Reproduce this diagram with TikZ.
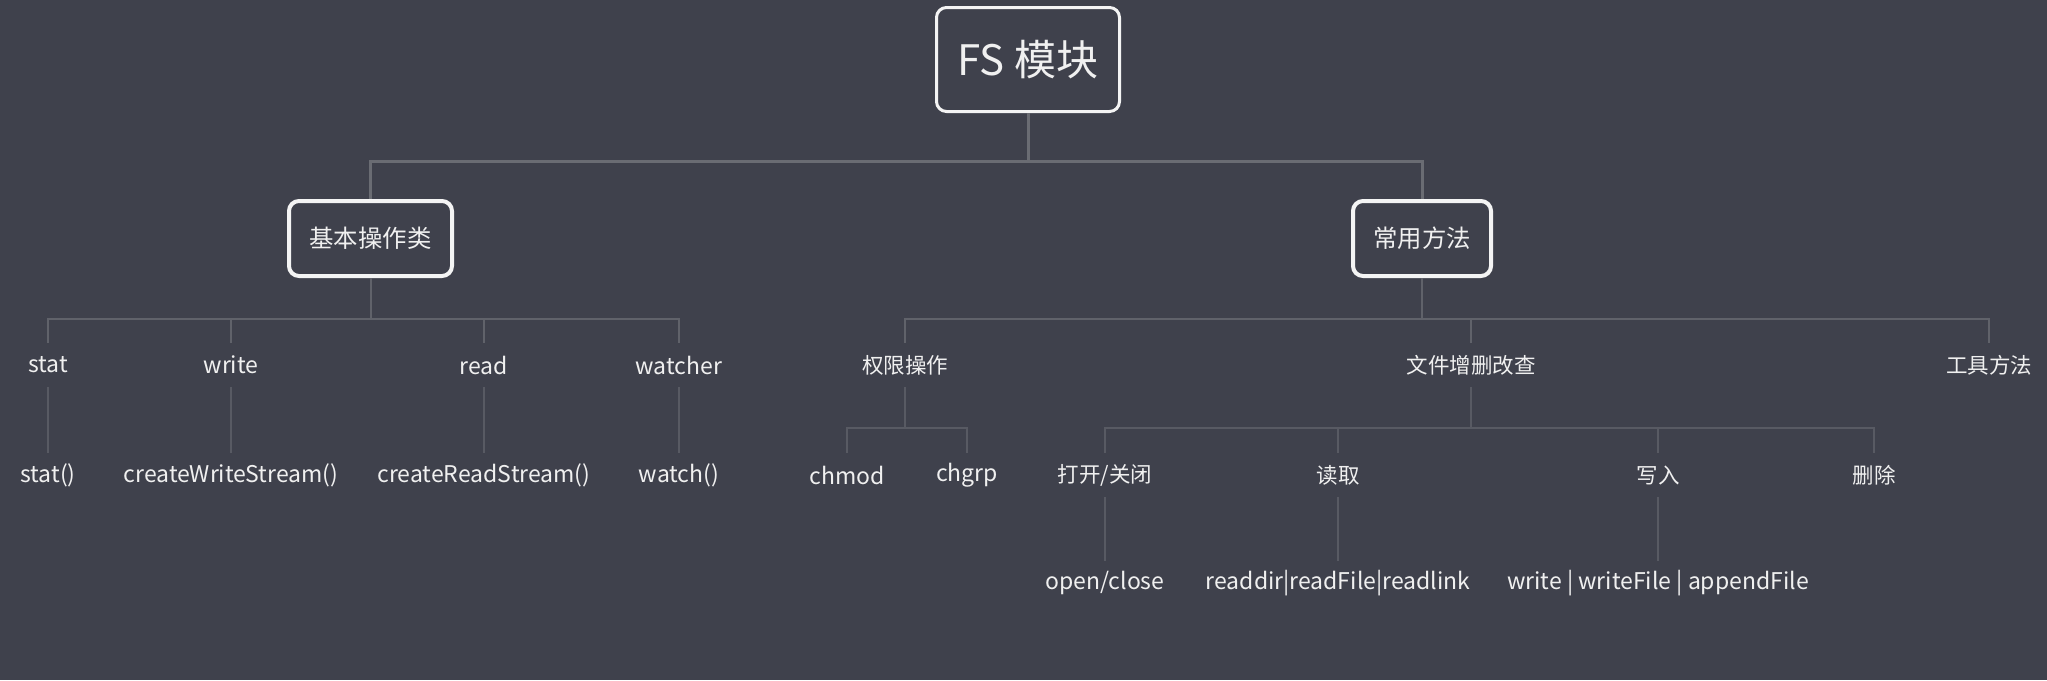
\documentclass[tikz,border=0pt]{standalone}
\usepackage{fontspec}
\setmainfont{Noto Sans CJK SC}
\definecolor{bg}{HTML}{3F414C}
\definecolor{boxc}{HTML}{F4F4F4}
\definecolor{txt}{HTML}{F0F0F0}
\definecolor{lineA}{HTML}{6A6C73}
\definecolor{lineB}{HTML}{60626A}
\definecolor{lineC}{HTML}{585A63}
\begin{document}
\begin{tikzpicture}[x=1pt,y=-1pt,
  mainbox/.style={draw=boxc, line width=3pt, rounded corners=10pt, fill=bg, text=txt, inner sep=0pt, align=center},
  lab/.style={text=txt, inner sep=0pt, minimum height=44pt, anchor=center},
  lat/.style={lab, font=\fontsize{23}{26}\selectfont},
  cjk/.style={lab, font=\fontsize{21.5}{24}\selectfont},
  connA/.style={draw=lineA, line width=3pt},
  connB/.style={draw=lineB, line width=2pt},
  connC/.style={draw=lineC, line width=1.5pt}]
\fill[bg] (0,0) rectangle (2047,680);
\useasboundingbox (0,0) rectangle (2047,680);

% bus coordinates
\coordinate (b0) at (0,161.5);
\coordinate (b1) at (0,318.5);
\coordinate (b2) at (0,428);

% boxes
\node[mainbox, minimum width=183pt, minimum height=104pt, font=\fontsize{42}{46}\selectfont] (root) at (1028,59.5) {FS 模块};
\node[mainbox, line width=4pt, minimum width=163pt, minimum height=75pt, font=\fontsize{24.4}{28}\selectfont] (basic) at (370.5,238.5) {基本操作类};
\node[mainbox, line width=4pt, minimum width=138pt, minimum height=75pt, font=\fontsize{24.4}{28}\selectfont] (common) at (1422,238.5) {常用方法};

% level 1 labels
\node[lat] (stat) at (48,365) {stat};
\node[lat] (write) at (231,365) {write};
\node[lat] (read) at (484,365) {read};
\node[lat] (watcher) at (679,365) {watcher};
\node[cjk] (perm) at (905,365) {权限操作};
\node[cjk] (file) at (1471,365) {文件增删改查};
\node[cjk] (tool) at (1989,365) {工具方法};

% level 2 labels
\node[lat] (statf) at (48,475) {stat()};
\node[lat] (cws) at (231,475) {createWriteStream()};
\node[lat] (crs) at (484,475) {createReadStream()};
\node[lat] (watchf) at (679,475) {watch()};
\node[lat] (chmod) at (847,475) {chmod};
\node[lat] (chgrp) at (967,475) {chgrp};
\node[cjk] (openk) at (1105,475) {打开/关闭};
\node[cjk] (readk) at (1338,475) {读取};
\node[cjk] (writek) at (1658,475) {写入};
\node[cjk] (delk) at (1874,475) {删除};

% level 3 labels
\node[lat] (openc) at (1105,583) {open/close};
\node[lat] (readl) at (1338,583) {readdir|readFile|readlink};
\node[lat] (writel) at (1658,583) {write | writeFile | appendFile};

% root connectors
\draw[connA] (root.south) -- (root.south |- b0) -| (basic.north);
\draw[connA] (root.south |- b0) -| (common.north);

% basic connectors
\foreach \c in {stat,write,read,watcher}
  \draw[connB] (basic.south) -- (basic.south |- b1) -| (\c.north);
% common connectors
\foreach \c in {perm,file,tool}
  \draw[connB] (common.south) -- (common.south |- b1) -| (\c.north);

% level 1 -> level 2 (left, straight)
\draw[connC] (stat.south) -- (statf.north);
\draw[connC] (write.south) -- (cws.north);
\draw[connC] (read.south) -- (crs.north);
\draw[connC] (watcher.south) -- (watchf.north);

% perm subtree
\foreach \c in {chmod,chgrp}
  \draw[connC] (perm.south) -- (perm.south |- b2) -| (\c.north);
% file subtree
\foreach \c in {openk,readk,writek,delk}
  \draw[connC] (file.south) -- (file.south |- b2) -| (\c.north);

% level 2 -> level 3
\draw[connC] (openk.south) -- (openc.north);
\draw[connC] (readk.south) -- (readl.north);
\draw[connC] (writek.south) -- (writel.north);
\end{tikzpicture}
\end{document}
